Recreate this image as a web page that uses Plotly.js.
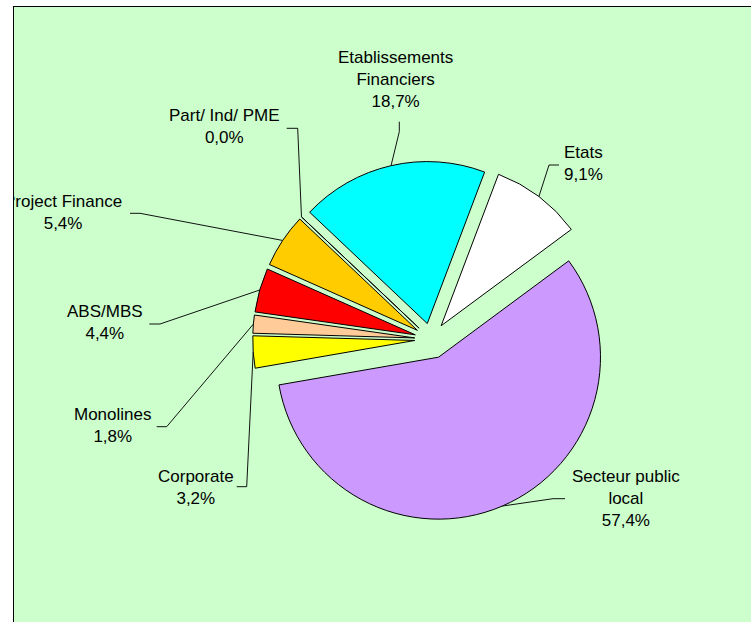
<!DOCTYPE html>
<html><head><meta charset="utf-8">
<script src="https://cdn.plot.ly/plotly-3.0.1.min.js"></script>
<style>
html,body{margin:0;padding:0;background:#fff;overflow:hidden;width:751px;height:622px;}
#frame{position:absolute;left:13px;top:6px;width:738px;height:616px;border-left:1px solid #000;border-top:1px solid #000;overflow:hidden;}
#chart{width:737px;height:615px;}
</style></head><body>
<div id="frame"><div id="chart"></div></div>
<script>
// ---- data ----
const categories = ["Secteur public local","Corporate","Monolines","ABS/MBS","Project Finance","Part/ Ind/ PME","Etablissements Financiers","Etats"];
const labelTexts = ["Secteur public<br>local","Corporate","Monolines","ABS/MBS","Project Finance","Part/ Ind/ PME","Etablissements<br>Financiers","Etats"];
const shares = [57.4, 3.2, 1.8, 4.4, 5.4, 0.0, 18.7, 9.1];

// ---- style / layout ----
const sliceColors = ["#CC99FF","#FFFF00","#FFCC99","#FF0000","#FFCC00","#993366","#00FFFF","#FFFFFF"];
const pulls = [0.12, 0.1, 0.1, 0.1, 0.1, 0.1, 0.1, 0.105];
const ROT = 53.5;
const W = 737, H = 615, OX = 14, OY = 7;
// label block centres (page pixels)
const labelCenters = [[626,498.5],[196,487.7],[113,425.7],[105,322.7],[63,212.7],[225,127],[395,80],[583,163]];
// leader line: label-side start and elbow (page pixels); the tip comes from the pie geometry
const leaderStubs = [
  [[565,498.7],[553,498.7]],
  [[236.7,486.7],[246.7,486.7]],
  [[156.7,426.7],[166.7,426.7]],
  [[149.3,324],[160,324]],
  [[130,213.3],[140,213.3]],
  [[286.7,128.3],[297.7,128.3]],
  [[399.3,121.7],[399.3,131.7]],
  [[559,165],[549,165]]
];

const px2x = p => (p - OX) / W;
const py2y = p => 1 - (p - OY) / H;
const fmtPct = v => v.toFixed(1).replace('.', ',') + '%';

const annotations = categories.map((c, i) => ({
  xref: 'paper', yref: 'paper',
  x: px2x(labelCenters[i][0]), y: py2y(labelCenters[i][1]),
  text: labelTexts[i] + '<br>' + fmtPct(shares[i]),
  showarrow: false, xanchor: 'center', yanchor: 'middle', align: 'center',
  font: {family: 'Liberation Sans, Arial, sans-serif', size: 17, color: '#000'}
}));

const trace = {
  type: 'pie',
  labels: categories,
  values: shares,
  sort: false,
  direction: 'clockwise',
  rotation: ROT,
  pull: pulls,
  textinfo: 'none',
  hoverinfo: 'skip',
  marker: {colors: sliceColors, line: {color: '#000', width: 1}},
  domain: {x: [0.3195, 0.8118], y: [0.1647, 0.7546]},
  showlegend: false
};

const layout = {
  width: W, height: H,
  margin: {l: 0, r: 0, t: 0, b: 0},
  paper_bgcolor: '#CCFFCC',
  plot_bgcolor: '#CCFFCC',
  showlegend: false,
  hovermode: false,
  annotations: annotations
};

const gd = document.getElementById('chart');
Plotly.newPlot(gd, [trace], layout, {displayModeBar: false, staticPlot: true}).then(() => {
  const cd = gd.calcdata && gd.calcdata[0];
  let cx, cy, r;
  if (cd && cd[0] && cd[0].r) { cx = cd[0].cx; cy = cd[0].cy; r = cd[0].r; }
  else {
    const bw = W * (trace.domain.x[1] - trace.domain.x[0]);
    const bh = H * (trace.domain.y[1] - trace.domain.y[0]);
    r = Math.min(bw, bh) / (2 + 2 * Math.max(...pulls));
    cx = W * (trace.domain.x[0] + trace.domain.x[1]) / 2;
    cy = H * (1 - trace.domain.y[0]) - bh / 2;
  }
  const total = shares.reduce((a, b) => a + b, 0);
  let ang = ROT * Math.PI / 180;
  const shapes = [];
  shares.forEach((v, i) => {
    let mid = ang + Math.PI * v / total;
    if (cd) { const pt = cd.find(p => p.i === i); if (pt && pt.midangle !== undefined) mid = pt.midangle; }
    ang += 2 * Math.PI * v / total;
    const rr = r * (1 + pulls[i]);
    const tx = cx + rr * Math.sin(mid), ty = cy - rr * Math.cos(mid);
    const s = leaderStubs[i];
    const path = 'M' + px2x(s[0][0]) + ',' + py2y(s[0][1]) +
                 ' L' + px2x(s[1][0]) + ',' + py2y(s[1][1]) +
                 ' L' + (tx / W) + ',' + (1 - ty / H);
    shapes.push({type: 'path', xref: 'paper', yref: 'paper', path: path, line: {color: '#111', width: 1}});
  });
  return Plotly.relayout(gd, {shapes: shapes});
});
</script>
</body></html>
